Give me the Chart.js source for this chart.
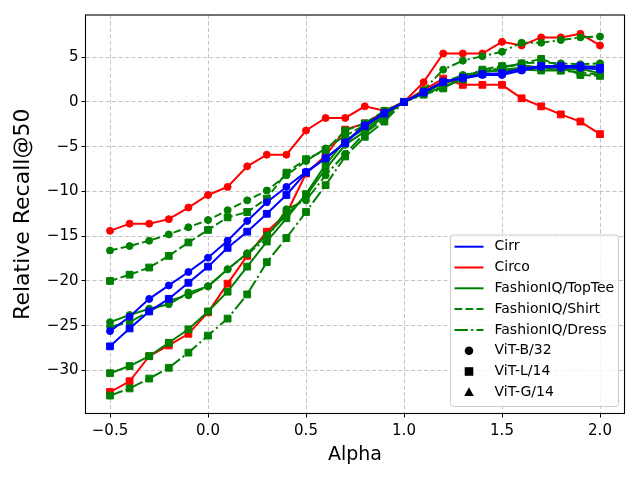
<!DOCTYPE html>
<html>
<head>
<meta charset="utf-8">
<script src="https://cdn.jsdelivr.net/npm/chart.js@4.4.0/dist/chart.umd.min.js"></script>
<style>
html, body { margin: 0; padding: 0; background: #fff; }
canvas { display: block; }
</style>
</head>
<body>
<canvas id="myChart" width="640" height="480"></canvas>
<script>
// x values (Alpha)
const alpha = [-0.5, -0.4, -0.3, -0.2, -0.1, 0.0, 0.1, 0.2, 0.3, 0.4, 0.5, 0.6, 0.7,
               0.8, 0.9, 1.0, 1.1, 1.2, 1.3, 1.4, 1.5, 1.6, 1.7, 1.8, 1.9, 2.0];

// Relative Recall@50 per dataset / backbone
const cirrB32 = [-25.6, -24.0, -22.0, -20.5, -19.0, -17.4, -15.5, -13.3, -11.2, -9.5, -7.8, -6.3, -4.5,
                 -2.6, -1.2, 0, 1.0, 2.3, 2.6, 3.0, 3.0, 3.5, 3.9, 3.8, 3.8, 3.6];
const cirrL14 = [-27.3, -25.3, -23.4, -22.0, -20.2, -18.4, -16.3, -14.5, -12.5, -10.4, -7.9, -6.3, -4.6,
                 -2.7, -1.3, 0, 1.1, 2.2, 2.7, 3.1, 3.2, 3.7, 4.0, 4.0, 4.0, 3.8];
const circoB32 = [-14.4, -13.6, -13.6, -13.1, -11.8, -10.4, -9.5, -7.2, -5.9, -5.9, -3.2, -1.8, -1.8,
                  -0.5, -1.0, 0, 2.2, 5.4, 5.4, 5.4, 6.7, 6.3, 7.2, 7.2, 7.6, 6.3];
const circoL14 = [-32.4, -31.2, -28.4, -27.2, -25.9, -23.5, -20.3, -17.2, -14.5, -12.5, -8.0, -6.0, -3.1,
                  -2.4, -1.1, 0, 1.3, 2.6, 1.9, 1.9, 1.9, 0.4, -0.5, -1.4, -2.2, -3.6];
const topteeB32 = [-24.6, -23.8, -23.1, -22.6, -21.3, -20.6, -18.7, -16.9, -14.9, -12.6, -10.5, -7.5, -4.8,
                   -3.3, -1.6, 0, 1.0, 2.0, 2.8, 3.3, 3.6, 3.8, 3.8, 3.9, 3.9, 4.0];
const topteeL14 = [-30.3, -29.5, -28.4, -26.9, -25.4, -23.4, -21.2, -18.4, -15.6, -13.0, -10.3, -7.0, -4.3,
                   -3.0, -1.5, 0, 0.9, 1.6, 2.6, 3.4, 3.5, 3.6, 3.5, 3.5, 3.7, 3.2];
const shirtB32 = [-16.6, -16.1, -15.5, -14.8, -14.0, -13.2, -12.1, -11.0, -9.9, -8.2, -6.6, -5.2, -3.8,
                  -2.6, -1.3, 0, 1.2, 2.2, 3.0, 3.4, 3.8, 4.3, 4.4, 4.3, 4.2, 4.3];
const shirtL14 = [-20.0, -19.3, -18.5, -17.2, -15.7, -14.3, -12.9, -12.3, -10.8, -7.9, -6.4, -5.4, -3.2,
                  -2.4, -1.0, 0, 0.9, 1.7, 2.5, 3.2, 3.8, 4.3, 4.8, 4.0, 3.0, 2.9];
const dressB32 = [-25.1, -24.6, -23.4, -22.2, -21.6, -20.6, -18.7, -17.0, -15.3, -12.0, -11.0, -8.2, -5.8,
                  -3.5, -1.9, 0, 1.3, 3.6, 4.6, 5.1, 5.6, 6.6, 6.6, 6.9, 7.2, 7.3];
const dressL14 = [-32.8, -32.0, -30.9, -29.7, -28.0, -26.1, -24.2, -21.5, -17.9, -15.2, -12.3, -9.3, -6.1,
                  -3.9, -2.2, 0, 0.8, 1.5, 2.8, 3.6, 4.0, 4.1, 3.8, 3.5, 3.3, 3.0];

// tick labels
const xTicks = [-0.5, 0.0, 0.5, 1.0, 1.5, 2.0];
const yTicks = [5, 0, -5, -10, -15, -20, -25, -30];

// legend entries
const datasetNames = ['Cirr', 'Circo', 'FashionIQ/TopTee', 'FashionIQ/Shirt', 'FashionIQ/Dress'];
const modelNames = ['ViT-B/32', 'ViT-L/14', 'ViT-G/14'];

const BLUE = '#0000ff', RED = '#ff0000', GREEN = '#008000';
const DASHED = [7.7, 3.3];
const DASHDOT = [13.3, 3.3, 2.1, 3.3];

function pts(values) {
    return alpha.map((a, i) => ({ x: a, y: values[i] }));
}

function series(label, values, color, dash, marker) {
    return {
        label: label,
        data: pts(values),
        borderColor: color,
        backgroundColor: color,
        borderWidth: 2,
        borderDash: dash,
        pointStyle: marker,
        pointRadius: marker === 'rect' ? 4.8 : 3.5,
        pointBackgroundColor: color,
        pointBorderColor: color,
        pointBorderWidth: 1,
        tension: 0
    };
}

const datasets = [
    series('Cirr ViT-B/32', cirrB32, BLUE, [], 'circle'),
    series('Cirr ViT-L/14', cirrL14, BLUE, [], 'rect'),
    series('TopTee ViT-B/32', topteeB32, GREEN, [], 'circle'),
    series('TopTee ViT-L/14', topteeL14, GREEN, [], 'rect'),
    series('Shirt ViT-B/32', shirtB32, GREEN, DASHED, 'circle'),
    series('Shirt ViT-L/14', shirtL14, GREEN, DASHED, 'rect'),
    series('Dress ViT-B/32', dressB32, GREEN, DASHDOT, 'circle'),
    series('Dress ViT-L/14', dressL14, GREEN, DASHDOT, 'rect'),
    series('Circo ViT-B/32', circoB32, RED, [], 'circle'),
    series('Circo ViT-L/14', circoL14, RED, [], 'rect')
];

function fmt(v, digits) {
    const s = Math.abs(v).toFixed(digits);
    return v < 0 ? '\u2212' + s : s;
}

// axes frame + matplotlib-style legend in the lower right
const frameLegend = {
    id: 'frameLegend',
    afterDraw(chart) {
        const { ctx, chartArea: a } = chart;
        ctx.save();
        ctx.strokeStyle = '#000';
        ctx.lineWidth = 1.1;
        ctx.strokeRect(a.left, a.top, a.right - a.left, a.bottom - a.top);

        const bx = a.right - 174, by = a.bottom - 178.5;
        const bw = 168, bh = 171.5;
        ctx.beginPath();
        ctx.roundRect(bx, by, bw, bh, 3);
        ctx.fillStyle = 'rgba(255,255,255,0.8)';
        ctx.fill();
        ctx.strokeStyle = '#cccccc';
        ctx.lineWidth = 1;
        ctx.stroke();

        const colors = [BLUE, RED, GREEN, GREEN, GREEN];
        const dashes = [[], [], [], DASHED, DASHDOT];
        const rowY = i => by + 11.7 + i * 20.8;
        const hx0 = bx + 4, hx1 = bx + 33, mx = bx + 18.5, tx = bx + 44;
        ctx.font = '14px "DejaVu Sans"';
        ctx.textBaseline = 'middle';
        ctx.textAlign = 'left';

        datasetNames.forEach((name, i) => {
            const y = rowY(i);
            ctx.beginPath();
            ctx.setLineDash(dashes[i]);
            ctx.strokeStyle = colors[i];
            ctx.lineWidth = 2;
            ctx.moveTo(hx0, y);
            ctx.lineTo(hx1, y);
            ctx.stroke();
            ctx.setLineDash([]);
            ctx.fillStyle = '#000';
            ctx.fillText(name, tx, y);
        });

        modelNames.forEach((name, j) => {
            const y = rowY(datasetNames.length + j);
            ctx.fillStyle = '#000';
            ctx.beginPath();
            if (j === 0) {
                ctx.arc(mx, y, 4.3, 0, Math.PI * 2);
            } else if (j === 1) {
                ctx.rect(mx - 4.3, y - 4.3, 8.6, 8.6);
            } else {
                ctx.moveTo(mx, y - 5);
                ctx.lineTo(mx + 4.8, y + 3.6);
                ctx.lineTo(mx - 4.8, y + 3.6);
                ctx.closePath();
            }
            ctx.fill();
            ctx.fillText(name, tx, y);
        });
        ctx.restore();
    }
};

const ctx = document.getElementById('myChart').getContext('2d');
new Chart(ctx, {
    type: 'line',
    data: { datasets: datasets },
    options: {
        responsive: false,
        animation: false,
        devicePixelRatio: 1,
        layout: { padding: { top: 15, right: 15.5, left: 0, bottom: 0 } },
        plugins: {
            legend: { display: false },
            tooltip: { enabled: false }
        },
        scales: {
            x: {
                type: 'linear',
                min: -0.625,
                max: 2.125,
                afterBuildTicks: scale => { scale.ticks = xTicks.map(v => ({ value: v })); },
                afterFit: scale => { scale.height = 66.5; },
                border: { display: false, dash: [4, 2.5] },
                grid: { color: '#c4c4c4', lineWidth: 1, tickColor: '#000', tickLength: 4, tickWidth: 1, tickBorderDash: [] },
                ticks: {
                    color: '#000',
                    padding: 5,
                    maxRotation: 0,
                    font: { family: 'DejaVu Sans', size: 15 },
                    callback: v => fmt(v, 1)
                },
                title: {
                    display: true,
                    text: 'Alpha',
                    color: '#000',
                    font: { family: 'DejaVu Sans', size: 19 },
                    padding: { top: 0, bottom: 14 }
                }
            },
            y: {
                type: 'linear',
                min: -34.8,
                max: 9.7,
                afterBuildTicks: scale => { scale.ticks = yTicks.map(v => ({ value: v })); },
                afterFit: scale => { scale.width = 85.5; },
                border: { display: false, dash: [4, 2.5] },
                grid: { color: '#c4c4c4', lineWidth: 1, tickColor: '#000', tickLength: 4, tickWidth: 1, tickBorderDash: [] },
                ticks: {
                    color: '#000',
                    padding: 3,
                    font: { family: 'DejaVu Sans', size: 15 },
                    callback: v => fmt(v, 0)
                },
                title: {
                    display: true,
                    text: 'Relative Recall@50',
                    color: '#000',
                    font: { family: 'DejaVu Sans', size: 22 },
                    padding: { top: 10, bottom: 0 }
                }
            }
        }
    },
    plugins: [frameLegend]
});
</script>
</body>
</html>
